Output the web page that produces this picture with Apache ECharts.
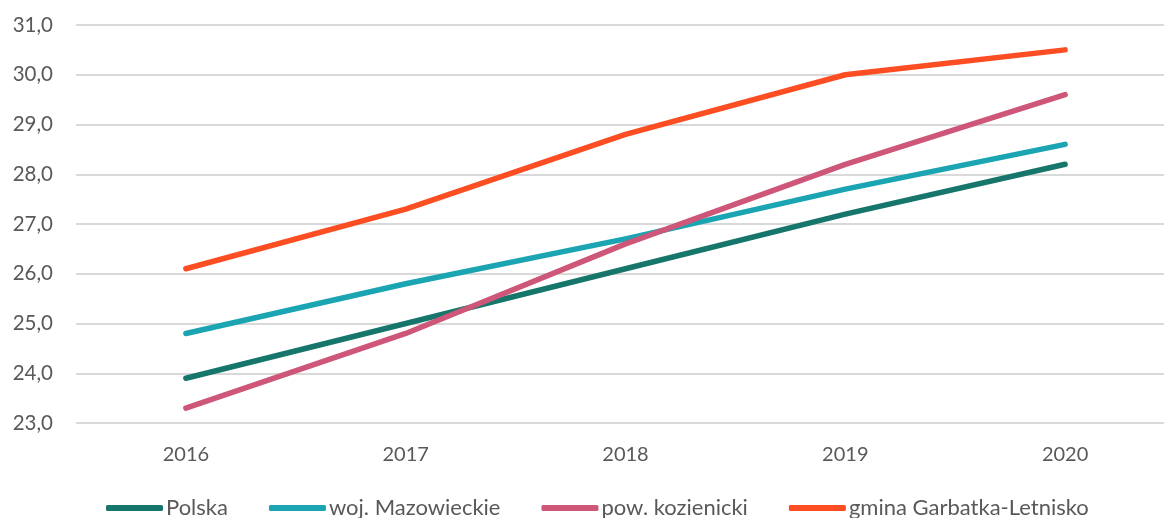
<!DOCTYPE html>
<html><head><meta charset="utf-8">
<script src="https://cdn.jsdelivr.net/npm/echarts@6/dist/echarts.min.js"></script>
<style>html,body{margin:0;padding:0;background:#fff;overflow:hidden}#c{width:1175px;height:518px}</style>
</head><body><div id="c"></div>
<script>
const categories = ['2016','2017','2018','2019','2020'];
const seriesNames = ['Polska','woj. Mazowieckie','pow. kozienicki','gmina Garbatka-Letnisko'];
const polska = [23.9, 25.0, 26.1, 27.2, 28.2];
const mazowieckie = [24.8, 25.8, 26.7, 27.7, 28.6];
const kozienicki = [23.3, 24.8, 26.6, 28.2, 29.6];
const garbatka = [26.1, 27.3, 28.8, 30.0, 30.5];
const colors = ['#17766b','#1ba5b3','#cd5679','#fc4e22'];
const values = [polska, mazowieckie, kozienicki, garbatka];
const font = 'Lato, "Open Sans", sans-serif';
const chart = echarts.init(document.getElementById('c'));
chart.setOption({
  animation:false,
  grid:{left:76,right:0,top:25,bottom:95,containLabel:false},
  legend:{
    top:492,left:101,itemGap:41,itemWidth:57,itemHeight:6,icon:'roundRect',
    textStyle:{fontFamily:font,fontSize:22,color:'#595959',padding:[0,0,0,-2]},
    data:seriesNames
  },
  xAxis:{type:'category',data:categories,boundaryGap:true,
    axisLine:{show:false},axisTick:{show:false},
    axisLabel:{fontFamily:font,fontSize:20,color:'#595959',margin:22}},
  yAxis:{type:'value',min:23,max:31,interval:1,
    axisLine:{show:false},axisTick:{show:false},
    splitLine:{lineStyle:{color:'#d9d9d9',width:2}},
    axisLabel:{fontFamily:font,fontSize:20.5,color:'#595959',margin:23,
      formatter:v=>v.toFixed(1).replace('.',',')}},
  series:seriesNames.map((n,i)=>({
    name:n,type:'line',data:values[i],showSymbol:false,symbol:'none',
    itemStyle:{color:colors[i]},
    lineStyle:{color:colors[i],width:5.5,cap:'round',join:'round'}
  }))
});
</script></body></html>
